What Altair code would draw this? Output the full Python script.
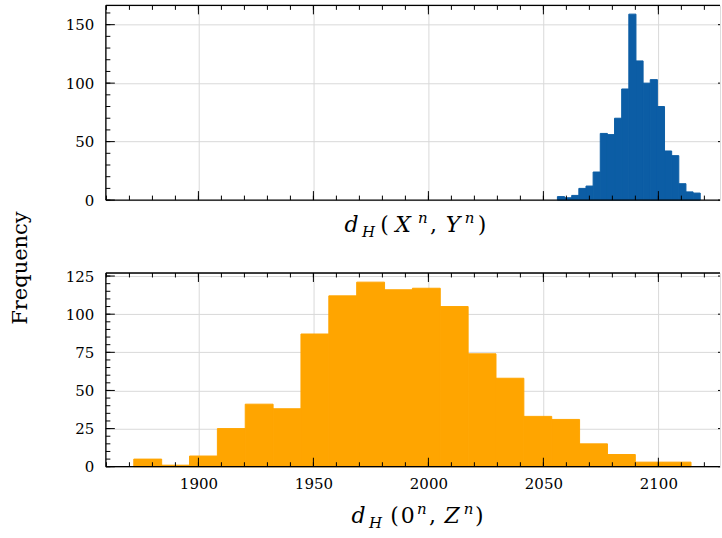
import altair as alt
import pandas as pd
import numpy as np

# ---------------- data ----------------
TOP_COUNTS = [3, 2, 4, 10, 12, 24, 57, 56, 70, 95, 159, 119, 100, 103, 80, 42, 38, 14, 7, 6]
TOP_RANGE = [2056.1, 2118.2]
BOT_COUNTS = [5, 1, 7, 25, 41, 38, 87, 112, 121, 116, 117, 105, 74, 58, 33, 31, 15, 8, 3, 3]
BOT_RANGE = [1871.9, 2114.2]

X_TICKS = [1900, 1950, 2000, 2050, 2100]
X_MINOR = list(range(1860, 2130, 10))
TOP_Y_TICKS = [0, 50, 100, 150]
TOP_Y_MINOR = list(range(0, 170, 10))
BOT_Y_TICKS = [0, 25, 50, 75, 100, 125]
BOT_Y_MINOR = list(range(0, 130, 5))

X_DOMAIN = [1859.75, 2126.8]
TOP_Y_DOMAIN = [0, 166.5]
BOT_Y_DOMAIN = [0, 127.0]

# axis-title glyphs: (text, role) ; role: m = main italic, r = main upright,
# sub = subscript italic, sup = superscript italic
TOP_TITLE = [("d", "m"), ("H", "sub"), ("(", "r"), ("X", "m"), ("n", "sup"),
             (",", "r"), ("Y", "m"), ("n", "sup"), (")", "r")]
BOT_TITLE = [("d", "m"), ("H", "sub"), ("(", "r"), ("0", "r"), ("n", "sup"),
             (",", "r"), ("Z", "m"), ("n", "sup"), (")", "r")]
YLABEL = "Frequency"

BLUE = "#0C5DA5"
ORANGE = "#FFA500"
FONT = "DejaVu Serif"
W = 615


def hist_df(counts, rng):
    edges = np.linspace(rng[0], rng[1], len(counts) + 1)
    return pd.DataFrame({"lo": edges[:-1], "hi": edges[1:], "count": counts})


def panel(counts, rng, color, ydom, ymaj, ymin, H, show_xlabels, title, centers, base, extra=None):
    xscale = alt.Scale(domain=X_DOMAIN, nice=False, zero=False)
    yscale = alt.Scale(domain=ydom, nice=False, zero=False)
    xaxis = alt.Axis(values=X_TICKS, grid=True, gridColor="#d9d9d9", gridWidth=1,
                     ticks=False, tickSize=0, domain=False, labels=show_xlabels,
                     labelFont=FONT, labelFontSize=15, labelColor="black",
                     labelPadding=10, format="d", title=None)
    yaxis = alt.Axis(values=ymaj, grid=True, gridColor="#d9d9d9", gridWidth=1,
                     ticks=False, tickSize=0, domain=False, labels=True,
                     labelFont=FONT, labelFontSize=15, labelColor="black",
                     labelPadding=12, format="d", title=None)

    def xenc(f):
        return alt.X(f, type="quantitative", scale=xscale, axis=xaxis)

    def yenc(f):
        return alt.Y(f, type="quantitative", scale=yscale, axis=yaxis)

    bars = alt.Chart(hist_df(counts, rng)).mark_rect(
        color=color, stroke=color, strokeWidth=1
    ).encode(x=xenc("lo"), x2="hi", y=yenc("count"), y2=alt.datum(0))

    layers = [bars]
    xmaj = pd.DataFrame({"v": X_TICKS})
    xmin = pd.DataFrame({"v": X_MINOR})
    ymj = pd.DataFrame({"v": ymaj})
    ymn = pd.DataFrame({"v": ymin})
    tick = dict(color="black", strokeWidth=1)
    for df, L in ((xmaj, 9), (xmin, 4.5)):
        layers.append(alt.Chart(df).mark_rule(**tick).encode(
            x=xenc("v"), y=alt.value(H), y2=alt.value(H - L)))
        layers.append(alt.Chart(df).mark_rule(**tick).encode(
            x=xenc("v"), y=alt.value(0), y2=alt.value(L)))
    for df, L in ((ymj, 9), (ymn, 4.5)):
        layers.append(alt.Chart(df).mark_rule(**tick).encode(
            y=yenc("v"), x=alt.value(0), x2=alt.value(L)))
    layers.append(alt.Chart(ymj).mark_rule(**tick).encode(
        y=yenc("v"), x=alt.value(W - 2), x2=alt.value(W)))

    one = pd.DataFrame({"a": [0]})
    spine = dict(color="black", strokeWidth=1.3)
    layers.append(alt.Chart(one).mark_rule(**spine).encode(
        x=alt.value(0), x2=alt.value(W), y=alt.value(0)))
    layers.append(alt.Chart(one).mark_rule(**spine).encode(
        x=alt.value(0), x2=alt.value(W), y=alt.value(H)))
    layers.append(alt.Chart(one).mark_rule(**spine).encode(
        x=alt.value(0), y=alt.value(0), y2=alt.value(H)))

    # axis title, glyph by glyph (math typesetting)
    role_style = {
        "m": (22, "italic", 0),
        "r": (22, "normal", 0),
        "sub": (15, "italic", 5),
        "sup": (15, "italic", -9),
    }
    for (txt, role), cx in zip(title, centers):
        fs, style, dy = role_style[role]
        layers.append(alt.Chart(pd.DataFrame({"t": [txt]})).mark_text(
            font=FONT, fontSize=fs, fontStyle=style, align="center",
            baseline="alphabetic", color="black"
        ).encode(x=alt.value(cx), y=alt.value(base + dy), text="t:N"))
    if extra is not None:
        layers.append(extra)

    return alt.layer(*layers).properties(width=W, height=H)


ylab = alt.Chart(pd.DataFrame({"t": [YLABEL]})).mark_text(
    font=FONT, fontSize=21, angle=270, align="center", baseline="middle", color="black"
).encode(x=alt.value(-85), y=alt.value(263), text="t:N")

top = panel(TOP_COUNTS, TOP_RANGE, BLUE, TOP_Y_DOMAIN, TOP_Y_TICKS, TOP_Y_MINOR, 195,
            False, TOP_TITLE,
            [246, 263, 279, 297.6, 317.3, 328, 347.7, 364.3, 376.6], 226.7, extra=ylab)
bottom = panel(BOT_COUNTS, BOT_RANGE, ORANGE, BOT_Y_DOMAIN, BOT_Y_TICKS, BOT_Y_MINOR, 194,
               True, BOT_TITLE,
               [253, 270, 289, 302.4, 316.3, 327, 346.7, 363.3, 374], 250.3)

chart = alt.vconcat(top, bottom, spacing=73, bounds="flush").properties(
    padding={"left": 9, "top": 3, "right": 0, "bottom": 0}
).configure_view(stroke=None).configure(background="white")

chart.save("out.html", embed_options={"renderer": "svg", "actions": False})
